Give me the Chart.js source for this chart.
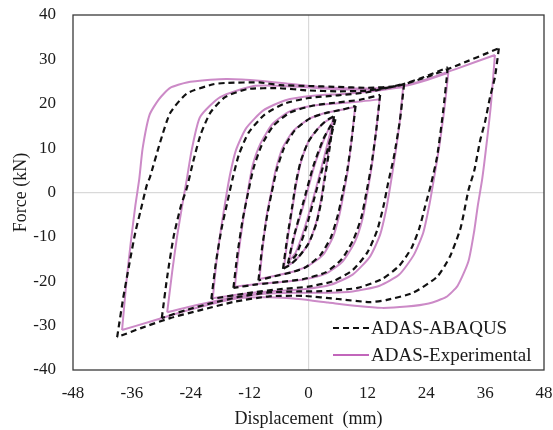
<!DOCTYPE html>
<html>
<head>
<meta charset="utf-8">
<script src="https://cdn.jsdelivr.net/npm/chart.js@4.4.1/dist/chart.umd.min.js"></script>
<style>
html,body{margin:0;padding:0;background:#fff;}
#wrap{width:553px;height:430px;position:relative;}
</style>
</head>
<body>
<div id="wrap"><canvas id="c"></canvas></div>
<script>
// ---- axis ticks ----
const xTicks = [-48, -36, -24, -12, 0, 12, 24, 36, 48];
const yTicks = [-40, -30, -20, -10, 0, 10, 20, 30, 40];
const seriesNames = ['ADAS-ABAQUS', 'ADAS-Experimental'];

// ---- ADAS-ABAQUS cycles: [displacement mm, force kN] ----
// each cycle: descending branch (from + peak) and ascending branch (from - peak)
const abqC1Down = [[5.5,16.5],[3.5,8],[1.5,0],[-0.5,-8],[-2.5,-14],[-4.2,-16]];
const abqC1Up   = [[-4.2,-16],[-3,-10],[-1,-2],[1,6],[3,12],[4.5,15],[5.5,16.5]];
const abqC2Down = [[5.2,17.2],[4.3,10],[3.3,3],[2.6,-2],[1.6,-7],[0,-11.5],[-2,-14.5],[-3.6,-16.2],[-5.2,-17.2]];
const abqC2Up   = [[-5.2,-17.2],[-4.3,-10],[-3.3,-3],[-2.6,2],[-1.6,7],[0,11.5],[2,14.5],[3.6,16.2],[5.2,17.2]];
const abqC3Down = [[9.6,19.5],[8.8,12],[7.9,5],[7,0],[6,-5],[4.6,-10],[2.5,-14],[-0.5,-16.8],[-3.5,-18],[-7,-18.9],[-10.2,-19.8]];
const abqC3Up   = [[-10.2,-19.8],[-9.4,-12],[-8.4,-5],[-7.5,0],[-6.5,5],[-5,10],[-2.8,14],[0.3,16.7],[3.5,17.9],[7,18.7],[9.6,19.5]];
const abqC4Down = [[14.6,22],[13.8,14],[12.8,6],[11.8,0],[10.8,-5.5],[9.2,-10.5],[6.8,-15],[3.5,-18],[-1,-19.5],[-6,-20.2],[-10.5,-20.7],[-15.3,-21.5]];
const abqC4Up   = [[-15.3,-21.5],[-14.5,-14],[-13.4,-6],[-12.3,0],[-11.2,5.5],[-9.6,10.5],[-7.2,15],[-3.8,18],[1,19.6],[6,20.3],[10.5,20.9],[14.6,22]];
const abqC5Down = [[19.5,24.5],[18.6,16],[17.4,8],[16.2,2],[15.3,-3],[14,-8.5],[12,-13.5],[9,-17.5],[5,-20],[0,-21.2],[-6,-21.8],[-12,-22.6],[-19.8,-24]];
const abqC5Up   = [[-19.8,-24],[-18.9,-16],[-17.7,-8],[-16.5,-2],[-15.5,3],[-14.2,8.5],[-12.2,13.5],[-9,17.5],[-5,20],[0,21.3],[6,21.9],[12,22.6],[19.5,24.5]];
const abqC6Down = [[28.4,28.2],[27.4,17.9],[26.2,8],[25,2],[23.8,-3],[22.6,-8],[21,-12.5],[18.5,-16.5],[15,-19.5],[10,-21.5],[4,-22.2],[-2,-22.3],[-8,-22.5],[-14,-23.5],[-20,-25],[-25,-26.5],[-29.9,-28.3]];
const abqC6Up   = [[-29.9,-28.3],[-28.8,-19],[-27.5,-10],[-26,-3],[-24.8,1],[-23.5,7],[-22,13],[-20,18],[-17,21.5],[-12.5,23.3],[-6,23.5],[0,23],[6,22.8],[12,23],[18,24],[23,25.8],[28.4,28.2]];
const abqC7Down = [[38.8,32.5],[38,26],[37,21.5],[36,16],[35,11.8],[33.8,5],[32.6,0.5],[31.6,-5],[30.9,-8.4],[28.8,-14.5],[26.2,-19],[21.3,-22.6],[16,-24.2],[12.5,-24.7],[6,-24],[-1,-23.3],[-8,-23.4],[-15,-24.6],[-22,-26.5],[-28.2,-28.3],[-34,-30.5],[-39,-32.6]];
const abqC7Up   = [[-39,-32.6],[-37.8,-24],[-36.5,-16],[-35.3,-9],[-34.2,-4],[-33,1.5],[-32.3,3.5],[-30.3,11.1],[-28.2,17.9],[-24.8,22.3],[-19.4,24.4],[-16.6,24.7],[-10,24.8],[-5.8,24.2],[0,24],[5.8,23.8],[12,23.6],[18,24],[24,26],[30,28.5],[38.8,32.5]];

// ---- ADAS-Experimental cycles ----
const expC1Down = [[5,16],[3.2,8],[1.3,0],[-0.8,-8],[-2.6,-13.5],[-4,-15.5]];
const expC1Up   = [[-4,-15.5],[-2.8,-9.5],[-0.8,-2],[1.2,6],[3,11.5],[4.2,14.5],[5,16]];
const expC2Down = [[5,17],[4.2,10],[3.2,3],[2.5,-2],[1.5,-7],[0,-11.5],[-2,-14.5],[-3.5,-16],[-5,-17]];
const expC2Up   = [[-5,-17],[-4.2,-10],[-3.2,-3],[-2.5,2],[-1.5,7],[0,11.5],[2,14.5],[3.5,16],[5,17]];
const expC3Down = [[9.5,19.3],[8.8,12],[8,5],[7.2,0],[6.3,-5],[5,-10],[3,-14],[0,-16.5],[-3,-17.8],[-6.5,-18.7],[-10,-19.5]];
const expC3Up   = [[-10,-19.5],[-9.3,-12],[-8.5,-5],[-7.6,0],[-6.7,5],[-5.3,10],[-3,14],[0,16.5],[3,17.8],[6.5,18.6],[9.5,19.3]];
const expC4Down = [[14.5,21],[13.8,14],[12.9,6],[12,0],[11,-6],[9.5,-11],[7,-15.5],[3.5,-18.3],[-1,-19.6],[-6,-20.2],[-10.5,-20.6],[-15,-21.2]];
const expC4Up   = [[-15,-21.2],[-14.3,-14],[-13.3,-6],[-12.4,0],[-11.4,6],[-9.8,11],[-7.3,15.5],[-3.8,18.3],[1,19.6],[6,20.1],[10.5,20.5],[14.5,21]];
const expC5Down = [[19.3,23.8],[18.6,16],[17.6,8],[16.6,1],[15.8,-4],[14.6,-9.5],[12.5,-14.5],[9,-18.5],[4.5,-20.8],[-1,-21.8],[-7,-22.2],[-13,-22.8],[-19.5,-23.8]];
const expC5Up   = [[-19.5,-23.8],[-18.8,-16],[-17.8,-8],[-16.8,-1],[-16,4],[-14.8,9.5],[-12.7,14.5],[-9.2,18.5],[-4.7,20.8],[1,21.8],[7,22.2],[13,22.8],[19.3,23.8]];
const expC6Down = [[28.5,27],[27.6,18],[26.6,10],[25.4,2],[24.6,-3],[23.4,-9],[21.5,-14],[18.5,-18.5],[14.5,-21],[9,-22.3],[3,-22.6],[-3,-22.6],[-9,-22.8],[-15,-23.6],[-22,-25.2],[-28.8,-27]];
const expC6Up   = [[-28.8,-27],[-27.8,-18],[-26.8,-10],[-25.6,-2],[-24.8,3],[-23.8,9.6],[-22.1,17],[-18,21.5],[-11.2,24],[-5,24],[2,23.5],[8,23.2],[14,23.3],[19.5,24],[24,25.3],[28.5,27]];
const expC7Down = [[38,31],[37.2,20],[36.3,11],[35.4,3],[34.5,-3],[33.8,-8.5],[32.6,-15.5],[30.4,-21],[28,-23.6],[24.5,-25],[20,-25.7],[15,-26],[10,-25.6],[4,-24.8],[-2,-24],[-8,-23.6],[-14,-23.8],[-20,-25.2],[-26,-27],[-32,-29],[-38,-31]];
const expC7Up   = [[-38,-31],[-37.1,-20],[-36.2,-11],[-35.3,-3],[-34.5,3],[-33.8,10],[-32.4,17.5],[-30.5,21],[-28.2,23.6],[-24.8,24.8],[-20,25.4],[-16.5,25.6],[-10,25.2],[-4,24.5],[2,23.8],[8,23.5],[14,23.5],[19.3,24],[24,25.5],[30,27.8],[38,31]];

const abaqusBranches = [abqC1Down, abqC1Up, abqC2Down, abqC2Up, abqC3Down, abqC3Up, abqC4Down, abqC4Up, abqC5Down, abqC5Up, abqC6Down, abqC6Up, abqC7Down, abqC7Up];
const expBranches = [expC1Down, expC1Up, expC2Down, expC2Up, expC3Down, expC3Up, expC4Down, expC4Up, expC5Down, expC5Up, expC6Down, expC6Up, expC7Down, expC7Up];

function toPoints(branches) {
  const out = [];
  branches.forEach((b, i) => {
    if (i > 0) out.push({x: b[0][0], y: null});
    b.forEach(p => out.push({x: p[0], y: p[1]}));
  });
  return out;
}

const FONT = '"Liberation Serif", "Times New Roman", serif';
const TXT = '#1a1a1a';

const frameAndLegend = {
  id: 'frameAndLegend',
  afterDraw(chart) {
    const ctx = chart.ctx;
    const a = chart.chartArea;
    ctx.save();
    ctx.strokeStyle = '#3a3a3a';
    ctx.lineWidth = 1.3;
    ctx.strokeRect(a.left, a.top, a.right - a.left, a.bottom - a.top);
    // legend
    const rows = [{y: 328}, {y: 355}];
    chart.data.datasets.forEach((ds, i) => {
      const y = rows[i].y;
      ctx.beginPath();
      ctx.setLineDash(ds.borderDash || []);
      ctx.strokeStyle = ds.legendColor || ds.borderColor;
      ctx.lineWidth = ds.borderWidth;
      ctx.moveTo(333, y);
      ctx.lineTo(369, y);
      ctx.stroke();
      ctx.setLineDash([]);
      ctx.fillStyle = TXT;
      ctx.font = '19px ' + FONT;
      ctx.textBaseline = 'middle';
      ctx.textAlign = 'left';
      ctx.fillText(ds.label, 371, y + 1);
    });
    ctx.restore();
  }
};

const zeroGrid = (c) => (c.tick && c.tick.value === 0) ? '#d9d9d9' : 'rgba(0,0,0,0)';

new Chart(document.getElementById('c'), {
  type: 'scatter',
  data: {
    datasets: [
      {
        label: seriesNames[0],
        data: toPoints(abaqusBranches),
        showLine: true,
        borderColor: '#111111',
        borderWidth: 2.2,
        borderDash: [6, 4],
        pointRadius: 0,
        tension: 0.2,
        spanGaps: false
      },
      {
        label: seriesNames[1],
        data: toPoints(expBranches),
        showLine: true,
        borderColor: '#cc8ac7',
        legendColor: '#c266bb',
        borderWidth: 2,
        pointRadius: 0,
        tension: 0.2,
        spanGaps: false
      }
    ]
  },
  options: {
    responsive: true,
    maintainAspectRatio: false,
    animation: false,
    layout: {padding: {top: 15, right: 9, left: 0, bottom: 0}},
    plugins: {legend: {display: false}, tooltip: {enabled: false}},
    scales: {
      x: {
        type: 'linear',
        min: xTicks[0], max: xTicks[xTicks.length - 1],
        afterBuildTicks: s => { s.ticks = xTicks.map(v => ({value: v})); },
        afterFit: s => { s.height = 60; s.paddingLeft = 0; s.paddingRight = 0; },
        grid: {color: zeroGrid, lineWidth: 1.2, drawTicks: false},
        border: {display: false},
        ticks: {padding: 13, color: TXT, font: {family: FONT, size: 17}},
        title: {display: true, text: 'Displacement  (mm)', color: TXT, font: {family: FONT, size: 18}, padding: {top: 0, bottom: 0}}
      },
      y: {
        type: 'linear',
        min: yTicks[0], max: yTicks[yTicks.length - 1],
        afterBuildTicks: s => { s.ticks = yTicks.map(v => ({value: v})); },
        afterFit: s => { s.width = 73; s.paddingTop = 0; s.paddingBottom = 0; },
        grid: {color: zeroGrid, lineWidth: 1.2, drawTicks: false},
        border: {display: false},
        ticks: {padding: 17, color: TXT, font: {family: FONT, size: 17}},
        title: {display: true, text: 'Force (kN)', color: TXT, font: {family: FONT, size: 18}, padding: {top: 10, bottom: 0}}
      }
    }
  },
  plugins: [frameAndLegend]
});
</script>
</body>
</html>
